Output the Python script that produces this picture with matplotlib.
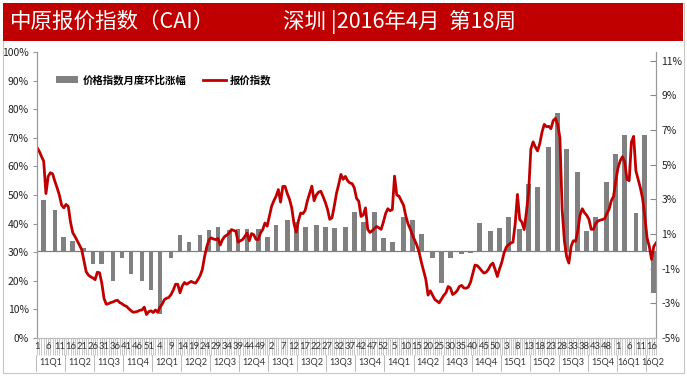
import matplotlib
matplotlib.use('Agg')
import matplotlib.pyplot as plt
import matplotlib.transforms as mtransforms
from matplotlib.patches import Rectangle, Patch
from matplotlib.lines import Line2D

plt.rcParams['font.family'] = ['Noto Sans CJK SC', 'DejaVu Sans']

# 年份 / 每年周数 / 每年月数
years = ['11', '12', '13', '14', '15', '16']
weeks_in_year = [52, 52, 52, 52, 52, 18]
months_in_year = [12, 12, 12, 12, 12, 4]

# 报价指数 (周, 左轴 %)
index_vals = [
    66.6, 65.3, 63.5, 61.8, 50.5, 56.5, 57.8, 57.4, 54.8, 52.5,
    50.0, 46.5, 45.5, 46.7, 46.0, 40.5, 36.8, 35.5, 34.0, 32.5,
    30.9, 27.0, 23.2, 22.0, 21.4, 21.0, 20.4, 23.0, 22.8, 19.2,
    13.8, 11.8, 12.0, 12.4, 12.6, 13.0, 13.2, 12.4, 12.0, 11.4,
    11.1, 10.3, 9.6, 9.0, 9.1, 9.3, 9.7, 9.8, 10.8, 8.2,
    9.2, 9.5, 8.9, 9.8, 9.0, 10.8, 11.8, 13.4, 13.9, 14.2,
    15.2, 16.8, 18.8, 18.8, 15.8, 18.2, 19.4, 18.8, 19.3, 19.8,
    19.4, 19.2, 20.4, 21.8, 24.0, 28.5, 32.0, 34.4, 35.0, 34.6,
    34.4, 34.8, 32.5, 34.4, 35.5, 36.0, 36.7, 37.9, 37.6, 37.3,
    33.5, 34.0, 34.4, 35.5, 36.7, 34.0, 36.5, 36.1, 34.5, 34.4,
    36.7, 37.9, 40.2, 39.1, 42.6, 46.1, 48.0, 49.6, 51.9, 47.5,
    53.0, 53.0, 50.5, 48.5, 45.5, 40.0, 37.0, 41.0, 43.7, 43.5,
    44.6, 48.0, 50.5, 53.1, 48.0, 50.0, 51.0, 51.3, 49.5, 47.5,
    45.0, 41.5, 42.0, 46.0, 50.5, 53.7, 57.2, 55.5, 56.5, 55.0,
    54.2, 54.0, 52.5, 48.8, 47.8, 42.5, 43.0, 45.5, 38.0, 36.9,
    37.5, 38.3, 39.0, 38.5, 38.0, 40.5, 43.5, 45.2, 44.5, 44.9,
    56.6, 50.0, 49.6, 48.0, 46.5, 42.8, 40.0, 38.2, 36.0, 34.2,
    32.4, 30.0, 26.5, 23.5, 20.5, 15.0, 16.5, 15.0, 13.5, 12.9,
    12.3, 13.6, 14.9, 15.8, 18.0, 17.5, 15.2, 15.7, 16.5, 18.0,
    18.4, 17.5, 17.4, 17.8, 19.5, 22.5, 25.5, 25.3, 24.5, 23.5,
    22.7, 23.0, 24.0, 25.5, 26.2, 24.0, 21.5, 24.2, 26.5, 29.7,
    31.8, 32.6, 33.2, 33.5, 40.0, 50.2, 41.5, 40.5, 37.9, 44.0,
    51.0, 66.0, 68.6, 66.8, 65.4, 68.0, 72.0, 74.7, 73.9, 74.0,
    73.2, 76.0, 76.8, 74.7, 70.0, 45.0, 34.0, 28.5, 26.2, 32.0,
    34.0, 33.8, 37.5, 43.0, 45.2, 43.8, 42.9, 41.5, 38.0, 38.0,
    40.0, 40.9, 41.2, 41.4, 41.7, 43.5, 45.0, 48.0, 49.5, 55.0,
    59.5, 62.0, 63.4, 61.5, 55.5, 55.0, 68.5, 70.5, 58.5, 55.5,
    52.5, 48.8, 42.5, 35.0, 32.0, 27.5, 32.0, 33.2,
]

# 价格指数月度环比涨幅 (月, 右轴 %)
mom_vals = [
    2.94, 2.4, 0.82, 0.61, 0.22, -0.74, -0.74, -1.69, -0.38, -1.3, -1.69, -2.25,
    -3.6, -0.38, 0.97, 0.53, 0.97, 1.24, 1.42, 1.24, 1.28, 1.28, 1.28, 0.82,
    1.52, 1.78, 1.71, 1.38, 1.52, 1.38, 1.32, 1.42, 2.27, 1.71, 2.27, 0.76,
    0.53, 1.98, 1.78, 1.01, -0.38, -1.8, -0.38, -0.16, -0.07, 1.63, 1.19, 1.32,
    1.96, 1.3, 3.9, 3.7, 6.0, 8.0, 5.9, 4.6, 1.2, 2.0, 4.0, 5.6, 6.7, 2.2,
    6.7, -2.4,
]

left_ticks = [0, 10, 20, 30, 40, 50, 60, 70, 80, 90, 100]
right_ticks = [-5, -3, -1, 1, 3, 5, 7, 9, 11]

weeks = list(range(1, len(index_vals) + 1))

# 月度数据放在每月最后一周
bar_x = []
off = 0
for nw, nm in zip(weeks_in_year, months_in_year):
    for k in range(1, nm + 1):
        bar_x.append(off + round(k * 52 / 12))
    off += 52

W, H = 687, 378
fig = plt.figure(figsize=(W / 100, H / 100), dpi=100)

# 外框 + 标题栏
fig.patches.append(Rectangle((3 / W, 5 / H), 681 / W, 370 / H, transform=fig.transFigure,
                             facecolor='none', edgecolor='#c8c8c8', lw=0.8))
fig.patches.append(Rectangle((3 / W, 1 - 41 / H), 680 / W, 38 / H, transform=fig.transFigure,
                             facecolor='#C00000', edgecolor='none'))
fig.text(10 / W, 1 - 22 / H, '中原报价指数（CAI）', color='white', fontsize=15.5,
         ha='left', va='center')
fig.text(283 / W, 1 - 22 / H, '深圳 |2016年4月  第18周', color='white', fontsize=15.5,
         ha='left', va='center')

ax = fig.add_axes([37 / W, 40 / H, 619 / W, 286 / H])
ax2 = ax.twinx()

# 柱 (右轴)
ax.bar(bar_x, mom_vals, width=2.1, color='#808080', zorder=2)
ax.axhline(0, color='#808080', lw=0.9, zorder=1)
ax.set_ylim(-5, 11.5)
ax.yaxis.set_ticks_position('right')
ax.set_yticks(right_ticks)
ax.set_yticklabels([f'{v}%' for v in right_ticks])
ax.tick_params(axis='y', direction='in', length=4, color='#888888', labelsize=7.5,
               labelcolor='#222222', pad=4)

# 线 (左轴)
ax2.plot(weeks, index_vals, color='#C00000', lw=2.0, solid_joinstyle='round')
ax2.set_ylim(0, 100)
ax2.yaxis.set_ticks_position('left')
ax2.set_yticks(left_ticks)
ax2.set_yticklabels([f'{v}%' for v in left_ticks])
ax2.tick_params(axis='y', direction='out', length=3, color='#8899aa', labelsize=7.5,
                labelcolor='#222222', pad=3)

ax.set_xlim(1, len(weeks))
for a in (ax, ax2):
    a.spines['top'].set_visible(False)
    a.spines['left'].set_color('#999999')
    a.spines['right'].set_color('#999999')
    a.spines['bottom'].set_color('#bbbbbb')

# x 轴: 每周刻度, 每 5 周标签, 季度标签
ax.set_xticks(weeks)
ax.set_xticklabels([])
ax.tick_params(axis='x', length=12, width=0.5, color='#b0b0b0', direction='out')
ax2.tick_params(axis='x', length=0)

trans = mtransforms.blended_transform_factory(ax.transData, ax.transAxes)
for w in weeks:
    if (w - 1) % 5 == 0:
        ax.text(w, -0.031, str((w - 1) % 52 + 1), transform=trans, ha='center', va='center',
                fontsize=6.8, family='Lato', color='#333333', clip_on=False)

off = 0
for yr, nw in zip(years, weeks_in_year):
    start = off + 0.5
    q = 1
    while start < off + nw:
        end = min(start + 13, off + nw + 0.5)
        xc = (start + end) / 2
        if yr == '16':
            # 16Q1 与 16Q2 挤在一起, 稍微错开
            xc = xc - 1.2 if q == 1 else xc + 0.6
        ax.text(xc, -0.087, f'{yr}Q{q}', transform=trans, ha='center',
                va='center', fontsize=6.6, family='Lato', color='#333333', clip_on=False)
        ax.plot([start, start], [-0.059, -0.115], transform=trans, color='#b0b0b0',
                lw=0.6, clip_on=False)
        start = end
        q += 1
    off += nw

handles = [Patch(facecolor='#808080', edgecolor='none'),
           Line2D([0], [0], color='#C00000', lw=2.0)]
ax2.legend(handles, ['价格指数月度环比涨幅', '报价指数'], loc='upper left',
           bbox_to_anchor=(0.03, 0.92), ncol=2, frameon=False,
           handlelength=2.2, handletextpad=0.4, columnspacing=1.6, borderpad=0,
           borderaxespad=0, prop={'weight': 'bold', 'size': 7.5})

fig.savefig('out.png', dpi=100)
